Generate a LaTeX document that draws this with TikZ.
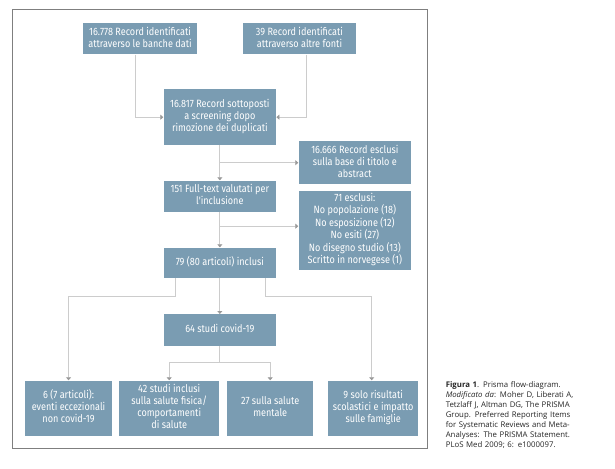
\documentclass[tikz,border=0pt]{standalone}
\usepackage{fontspec}
\usepackage{graphicx}
\setmainfont{Open Sans}
\newfontfamily\boxfont{Fira Sans}
\newcommand{\bxt}[1]{\scalebox{0.86}[1]{\begin{tabular}{@{}c@{}}#1\end{tabular}}}
\usetikzlibrary{arrows.meta}
\definecolor{boxblue}{HTML}{7A9CB2}
\definecolor{linegray}{HTML}{CCCCCC}
\definecolor{tipgray}{HTML}{9A9A9A}
\definecolor{framegray}{HTML}{7F7F7F}
\tikzset{
  box/.style={fill=boxblue, text=white, inner sep=0pt, anchor=north west,
    align=center, font=\boxfont\fontsize{10.6}{12}\selectfont},
  conn/.style={draw=linegray, line width=1.1pt,
    -{Triangle[width=5pt,length=3pt,color=tipgray,fill=tipgray]}},
  plain/.style={draw=linegray, line width=1.1pt},
}
\begin{document}
\begin{tikzpicture}[x=1pt,y=-1pt]
\useasboundingbox (0,0) rectangle (615,468);
\fill[white] (0,0) rectangle (615,468);
\draw[framegray, line width=0.9pt] (12.3,9.7) rectangle (427.3,448.3);

\node[box, minimum width=113.7pt, minimum height=31.3pt] (A) at (83,23) {\bxt{16.778 Record identificati\\attraverso le banche dati}};
\node[box, minimum width=113.5pt, minimum height=31.3pt] (B) at (242.5,23) {\bxt{39 Record identificati\\attraverso altre fonti}};
\node[box, minimum width=112.7pt, minimum height=55.4pt] (C) at (163.3,89.3) {\bxt{16.817 Record sottoposti\\a screening dopo\\rimozione dei duplicati}};
\node[box, minimum width=112.7pt, minimum height=43pt] (D) at (298.3,141) {\bxt{16.666 Record esclusi\\sulla base di titolo e\\abstract}};
\node[box, minimum width=112.7pt, minimum height=31.4pt] (E) at (163.3,180.3) {\bxt{151 Full-text valutati per\\l'inclusione}};
\node[box, minimum width=112.7pt, minimum height=78.6pt] (F) at (298.3,190.7) {\bxt{71 esclusi:\\No popolazione (18)\\No esposizione (12)\\No esiti (27)\\No disegno studio (13)\\Scritto in norvegese (1)}};
\node[box, minimum width=112.7pt, minimum height=30.4pt] (G) at (163.3,247.3) {\bxt{79 (80 articoli) inclusi}};
\node[box, minimum width=112.7pt, minimum height=31.5pt] (H) at (163.3,314) {\bxt{64 studi covid-19}};
\node[box, minimum width=86.7pt, minimum height=55pt] (I1) at (25,380.3) {\bxt{6 (7 articoli):\\eventi eccezionali\\non covid-19}};
\node[box, minimum width=100pt, minimum height=55pt] (I2) at (119,380.3) {\bxt{42 studi inclusi\\sulla salute fisica/\\comportamenti\\di salute}};
\node[box, minimum width=86pt, minimum height=55pt] (I3) at (227,380.3) {\bxt{27 sulla salute\\mentale}};
\node[box, minimum width=90pt, minimum height=55pt] (I4) at (328,380.3) {\bxt{9 solo risultati\\scolastici e impatto\\sulle famiglie}};

\coordinate (gb) at (0,296.7);
\coordinate (hb) at (0,362.3);

\draw[conn] ([xshift=-4.9pt]A.south) |- (C.west);
\draw[conn] ([xshift=6.7pt]B.south) |- (C.east);
\draw[conn] (C.south) -- (E.north);
\draw[conn] (C.south |- D.west) -- (D.west);
\draw[conn] (E.south) -- (G.north);
\draw[conn] (E.south |- F.west) ++(0,-4) -- ([yshift=4pt]F.west);
\draw[conn] (G.south) -- (H.north);
\draw[conn] ([xshift=-44.7pt]G.south) |- (I1.north |- gb) -- (I1.north);
\draw[conn] ([xshift=45.3pt]G.south) |- ([xshift=-1.5pt]I4.north |- gb) -- ([xshift=-1.5pt]I4.north);
\draw[plain] (H.south) -- (H.south |- hb);
\draw[conn] (H.south |- hb) -| (I2.north);
\draw[conn] (H.south |- hb) -| (I3.north);

\node[anchor=north west, inner sep=0pt, text width=156pt, align=left,
  font=\fontsize{7.8}{10}\selectfont, text=black!85] (cap) at (445.6,381)
{\textbf{Figura 1}. Prisma flow-diagram.\\
\makebox[156pt][s]{\textit{Modificato da}: Moher D, Liberati A,}\\
\makebox[156pt][s]{Tetzlaff J, Altman DG, The PRISMA}\\
\makebox[156pt][s]{Group. Preferred Reporting Items}\\
\makebox[156pt][s]{for Systematic Reviews and Meta-}\\
\makebox[156pt][s]{Analyses: The PRISMA Statement.}\\
PLoS Med 2009; 6: e1000097.};
\end{tikzpicture}
\end{document}
